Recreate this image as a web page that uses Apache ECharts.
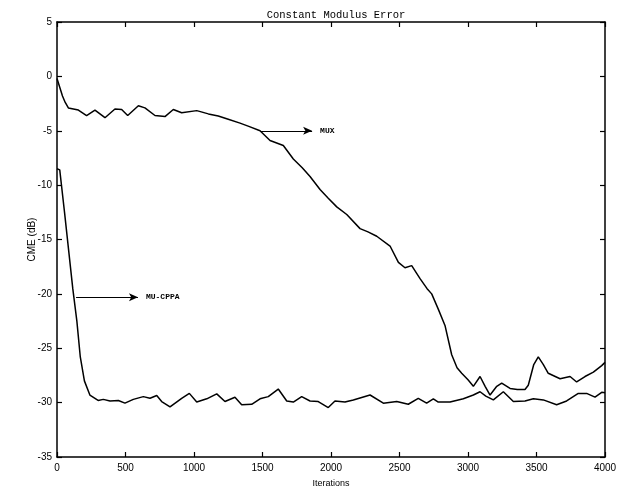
<!DOCTYPE html>
<html>
<head>
<meta charset="utf-8">
<script src="https://cdn.jsdelivr.net/npm/echarts@6/dist/echarts.min.js"></script>
<style>
html,body{margin:0;padding:0;background:#fff;}
#chart{width:627px;height:493px;}
</style>
</head>
<body>
<div id="chart"></div>
<script>
// ---- data ----
var titleText = 'Constant Modulus Error';
var xName = 'Iterations';
var yName = 'CME (dB)';
var xTicks = [0, 500, 1000, 1500, 2000, 2500, 3000, 3500, 4000];
var yTicks = [-35, -30, -25, -20, -15, -10, -5, 0, 5];

var muxX = [0, 20, 40, 60, 83, 156, 216, 277, 350, 423, 472, 516, 594, 642, 715, 788, 849, 910, 1020, 1105, 1177, 1250, 1336, 1400, 1482, 1555, 1652, 1725, 1790, 1847, 1920, 1980, 2042, 2115, 2212, 2270, 2334, 2431, 2492, 2540, 2589, 2650, 2700, 2735, 2783, 2832, 2881, 2920, 2954, 3000, 3039, 3088, 3125, 3161, 3210, 3246, 3307, 3360, 3416, 3440, 3480, 3513, 3550, 3586, 3672, 3745, 3793, 3854, 3915, 3976, 4000];
var muxY = [-0.2, -1.0, -1.8, -2.4, -2.9, -3.1, -3.6, -3.1, -3.8, -3.0, -3.05, -3.6, -2.7, -2.9, -3.6, -3.7, -3.05, -3.35, -3.15, -3.45, -3.65, -3.95, -4.3, -4.6, -5.0, -5.9, -6.35, -7.6, -8.4, -9.2, -10.4, -11.2, -12.0, -12.7, -14.0, -14.3, -14.7, -15.6, -17.1, -17.6, -17.4, -18.6, -19.5, -20.0, -21.4, -22.9, -25.6, -26.8, -27.3, -27.9, -28.5, -27.6, -28.5, -29.3, -28.5, -28.2, -28.7, -28.8, -28.8, -28.4, -26.5, -25.8, -26.5, -27.3, -27.8, -27.6, -28.1, -27.6, -27.2, -26.6, -26.3];

var cppaX = [0, 20, 55, 85, 115, 145, 170, 200, 240, 300, 338, 387, 448, 496, 557, 630, 679, 728, 764, 825, 910, 966, 1020, 1093, 1166, 1226, 1299, 1348, 1421, 1482, 1542, 1615, 1677, 1725, 1786, 1847, 1907, 1980, 2029, 2102, 2163, 2285, 2382, 2480, 2564, 2637, 2698, 2747, 2783, 2869, 2966, 3039, 3088, 3130, 3185, 3258, 3331, 3416, 3477, 3550, 3647, 3720, 3805, 3866, 3927, 3976, 4000];
var cppaY = [-8.5, -8.6, -12.5, -16.0, -19.5, -22.5, -25.8, -28.0, -29.3, -29.8, -29.7, -29.85, -29.8, -30.05, -29.7, -29.45, -29.6, -29.35, -29.9, -30.4, -29.6, -29.15, -29.95, -29.65, -29.2, -29.9, -29.5, -30.2, -30.15, -29.65, -29.45, -28.75, -29.85, -29.95, -29.45, -29.85, -29.9, -30.45, -29.85, -29.95, -29.75, -29.3, -30.05, -29.9, -30.15, -29.6, -30.05, -29.65, -29.95, -29.95, -29.65, -29.3, -29.0, -29.4, -29.75, -29.0, -29.9, -29.85, -29.65, -29.75, -30.2, -29.85, -29.15, -29.15, -29.5, -29.05, -29.1];

var muxLabel = 'MUX';
var muxArrow = [[1482, -5.0], [1862, -5.0]];
var cppaLabel = 'MU-CPPA';
var cppaArrow = [[139, -20.3], [591, -20.3]];

function pairs(xs, ys) { return xs.map(function (x, i) { return [x, ys[i]]; }); }

var chart = echarts.init(document.getElementById('chart'), null, {renderer: 'canvas'});

var axisCommon = {
  axisLine: {show: true, onZero: false, lineStyle: {color: '#000', width: 1.5}},
  axisTick: {show: true, inside: true, length: 5, lineStyle: {color: '#000', width: 1.2}},
  splitLine: {show: false}
};

function arrowLine(pts, label) {
  return {
    silent: true,
    symbol: ['none', 'arrow'],
    symbolSize: [6, 9],
    lineStyle: {color: '#000', width: 1.2, type: 'solid'},
    label: {
      show: true, position: 'end', formatter: label, distance: 8,
      fontFamily: 'Liberation Mono', fontWeight: 'bold', fontSize: 8, color: '#000'
    },
    data: [[{coord: pts[0]}, {coord: pts[1]}]]
  };
}

var option = {
  animation: false,
  backgroundColor: '#fff',
  title: {
    text: titleText, left: 331, top: 5, textAlign: 'center',
    textStyle: {fontFamily: 'Liberation Mono', fontSize: 10.5, fontWeight: 'normal', color: '#000'}
  },
  grid: {left: 57, right: 22, top: 22, bottom: 34},
  xAxis: [
    Object.assign({
      type: 'value', min: 0, max: 4000, interval: 500, position: 'bottom',
      name: xName, nameLocation: 'middle', nameGap: 22, nameMoveOverlap: false,
      nameTextStyle: {fontFamily: 'Liberation Sans', fontSize: 9, color: '#000'},
      axisLabel: {margin: 6, fontFamily: 'Liberation Sans', fontSize: 10, color: '#000',
        formatter: function (v) { return String(v); }}
    }, axisCommon),
    Object.assign({
      type: 'value', min: 0, max: 4000, interval: 500, position: 'top',
      axisLabel: {show: false}
    }, axisCommon)
  ],
  yAxis: [
    Object.assign({
      type: 'value', min: -35, max: 5, interval: 5, position: 'left',
      name: yName, nameLocation: 'middle', nameGap: 20, nameRotate: 90, nameMoveOverlap: false,
      nameTextStyle: {fontFamily: 'Liberation Sans', fontSize: 10, color: '#000'},
      axisLabel: {margin: 5, fontFamily: 'Liberation Sans', fontSize: 10, color: '#000',
        formatter: function (v) { return String(v); }}
    }, axisCommon),
    Object.assign({
      type: 'value', min: -35, max: 5, interval: 5, position: 'right',
      axisLabel: {show: false}
    }, axisCommon)
  ],
  series: [
    {
      name: muxLabel, type: 'line', data: pairs(muxX, muxY),
      xAxisIndex: 0, yAxisIndex: 0,
      showSymbol: false, symbol: 'none',
      lineStyle: {color: '#000', width: 1.5},
      markLine: arrowLine(muxArrow, muxLabel)
    },
    {
      name: cppaLabel, type: 'line', data: pairs(cppaX, cppaY),
      xAxisIndex: 0, yAxisIndex: 0,
      showSymbol: false, symbol: 'none',
      lineStyle: {color: '#000', width: 1.5},
      markLine: arrowLine(cppaArrow, cppaLabel)
    }
  ]
};
chart.setOption(option);
</script>
</body>
</html>
